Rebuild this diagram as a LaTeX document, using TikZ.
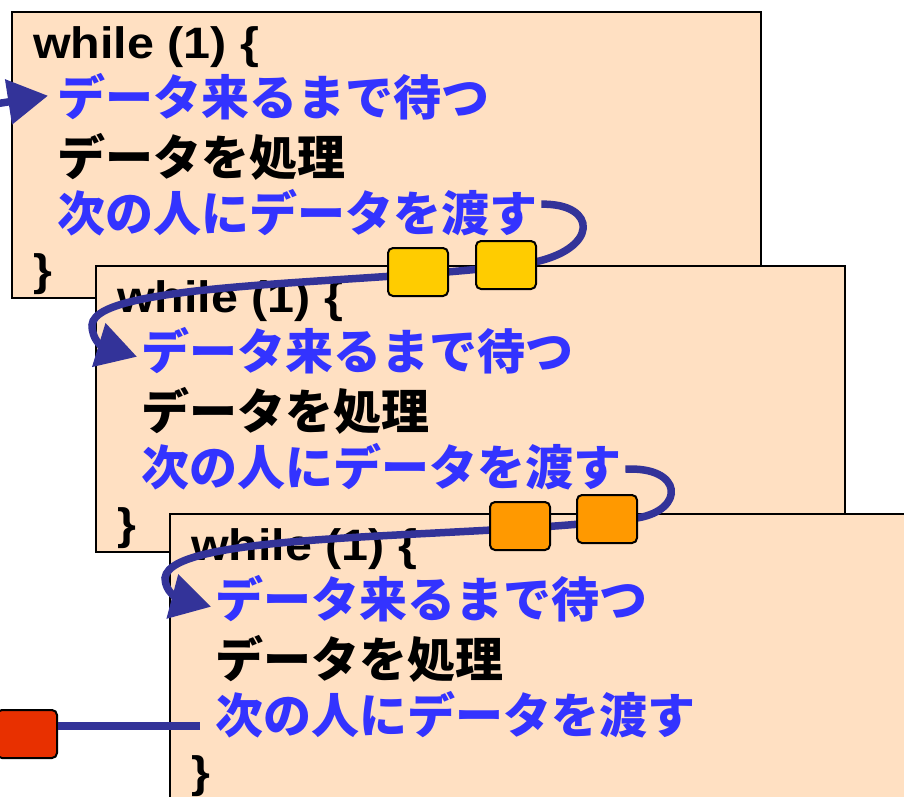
\documentclass[tikz,border=0pt]{standalone}
\usepackage{fontspec}
\setmainfont{Liberation Sans}
\newfontfamily\latf{Liberation Sans}[FakeStretch=1.1]
\newfontfamily\jpf{Noto Sans CJK JP}
\usetikzlibrary{arrows.meta,calc}
\definecolor{peach}{RGB}{255,224,194}
\definecolor{jblue}{RGB}{51,51,255}
\definecolor{cblue}{RGB}{51,51,153}
\definecolor{yel}{RGB}{255,204,0}
\definecolor{org}{RGB}{255,153,0}
\definecolor{redb}{RGB}{232,48,0}
\tikzset{
  codebox/.style={rectangle, draw=black, line width=1.5pt, fill=peach,
    minimum width=749pt, minimum height=286pt, inner sep=0pt, anchor=north west},
  lat/.style={anchor=base west, inner sep=0pt, text=black,
    font=\latf\bfseries\fontsize{44}{44}\selectfont},
  jp/.style={anchor=base west, inner sep=0pt, text=black,
    font=\jpf\bfseries\fontsize{48}{48}\selectfont},
  jpb/.style={jp, text=jblue},
  token/.style={rectangle, draw=black, line width=2pt, rounded corners=5pt,
    minimum width=60pt, minimum height=48pt, inner sep=0pt},
  conn/.style={draw=cblue, line width=7.5pt},
  tipped/.style={conn, -{Triangle[length=40pt, width=44pt]}, fill=none}
}
\begin{document}
\begin{tikzpicture}[x=1pt, y=-1pt]
\useasboundingbox (0,0) rectangle (904,796);
\clip (0,0) rectangle (904,796);

% box 1
\node[codebox] (b1) at (11,11) {};
\begin{scope}[shift={(11,11)}]
  \node[lat] (b1w) at (22,47) {while (1) \{};
  \node[jpb] (b1a) at (46,104.5) {データ来るまで待つ};
  \node[jp]  (b1b) at (46,164) {データを処理};
  \node[jpb] (b1c) at (46,220) {次の人にデータを渡す};
  \node[lat] (b1e) at (22,274) {\}};
\end{scope}

% box 2
\node[codebox] (b2) at (95,265) {};
\begin{scope}[shift={(95,265)}]
  \node[lat] (b2w) at (22,47) {while (1) \{};
  \node[jpb] (b2a) at (46,104.5) {データ来るまで待つ};
  \node[jp]  (b2b) at (46,164) {データを処理};
  \node[jpb] (b2c) at (46,220) {次の人にデータを渡す};
  \node[lat] (b2e) at (22,274) {\}};
\end{scope}

% connector into box 1
\coordinate (in1) at (-5,104);
\draw[tipped] (in1) -- ($(b1a.west)+(-9,-1)$);

% connector box 1 -> box 2
\draw[tipped] ($(b1c.east)+(4,-8)$)
  .. controls (598,203) and (600,250) .. (530,263)
  .. controls (380,285) and (95,280) .. (92,325)
  .. controls (92,340) and (102,346) .. ($(b2a.west)+(-4,6)$);

% yellow tokens
\node[token, fill=yel] (y1) at (418,272) {};
\node[token, fill=yel] (y2) at (506,265) {};

% box 3
\node[codebox] (b3) at (169,513) {};
\begin{scope}[shift={(169,513)}]
  \node[lat] (b3w) at (22,47) {while (1) \{};
  \node[jpb] (b3a) at (46,104.5) {データ来るまで待つ};
  \node[jp]  (b3b) at (46,164) {データを処理};
  \node[jpb] (b3c) at (46,220) {次の人にデータを渡す};
  \node[lat] (b3e) at (22,274) {\}};
\end{scope}

% connector box 2 -> box 3
\draw[tipped] ($(b2c.east)+(4,3)$)
  .. controls (683,466) and (686,510) .. (637,518)
  .. controls (470,540) and (170,530) .. (165,578)
  .. controls (165,592) and (178,598) .. ($(b3a.west)+(-4,8)$);

% orange tokens
\node[token, fill=org] (o1) at (520,526) {};
\node[token, fill=org] (o2) at (607,519) {};

% red token and outgoing line
\node[token, fill=redb] (r) at (27,734) {};
\coordinate (rs) at ($(r.east)+(0,-8)$);
\draw[conn, shorten >=15pt] (rs) -- (rs -| b3c.west);
\end{tikzpicture}
\end{document}
